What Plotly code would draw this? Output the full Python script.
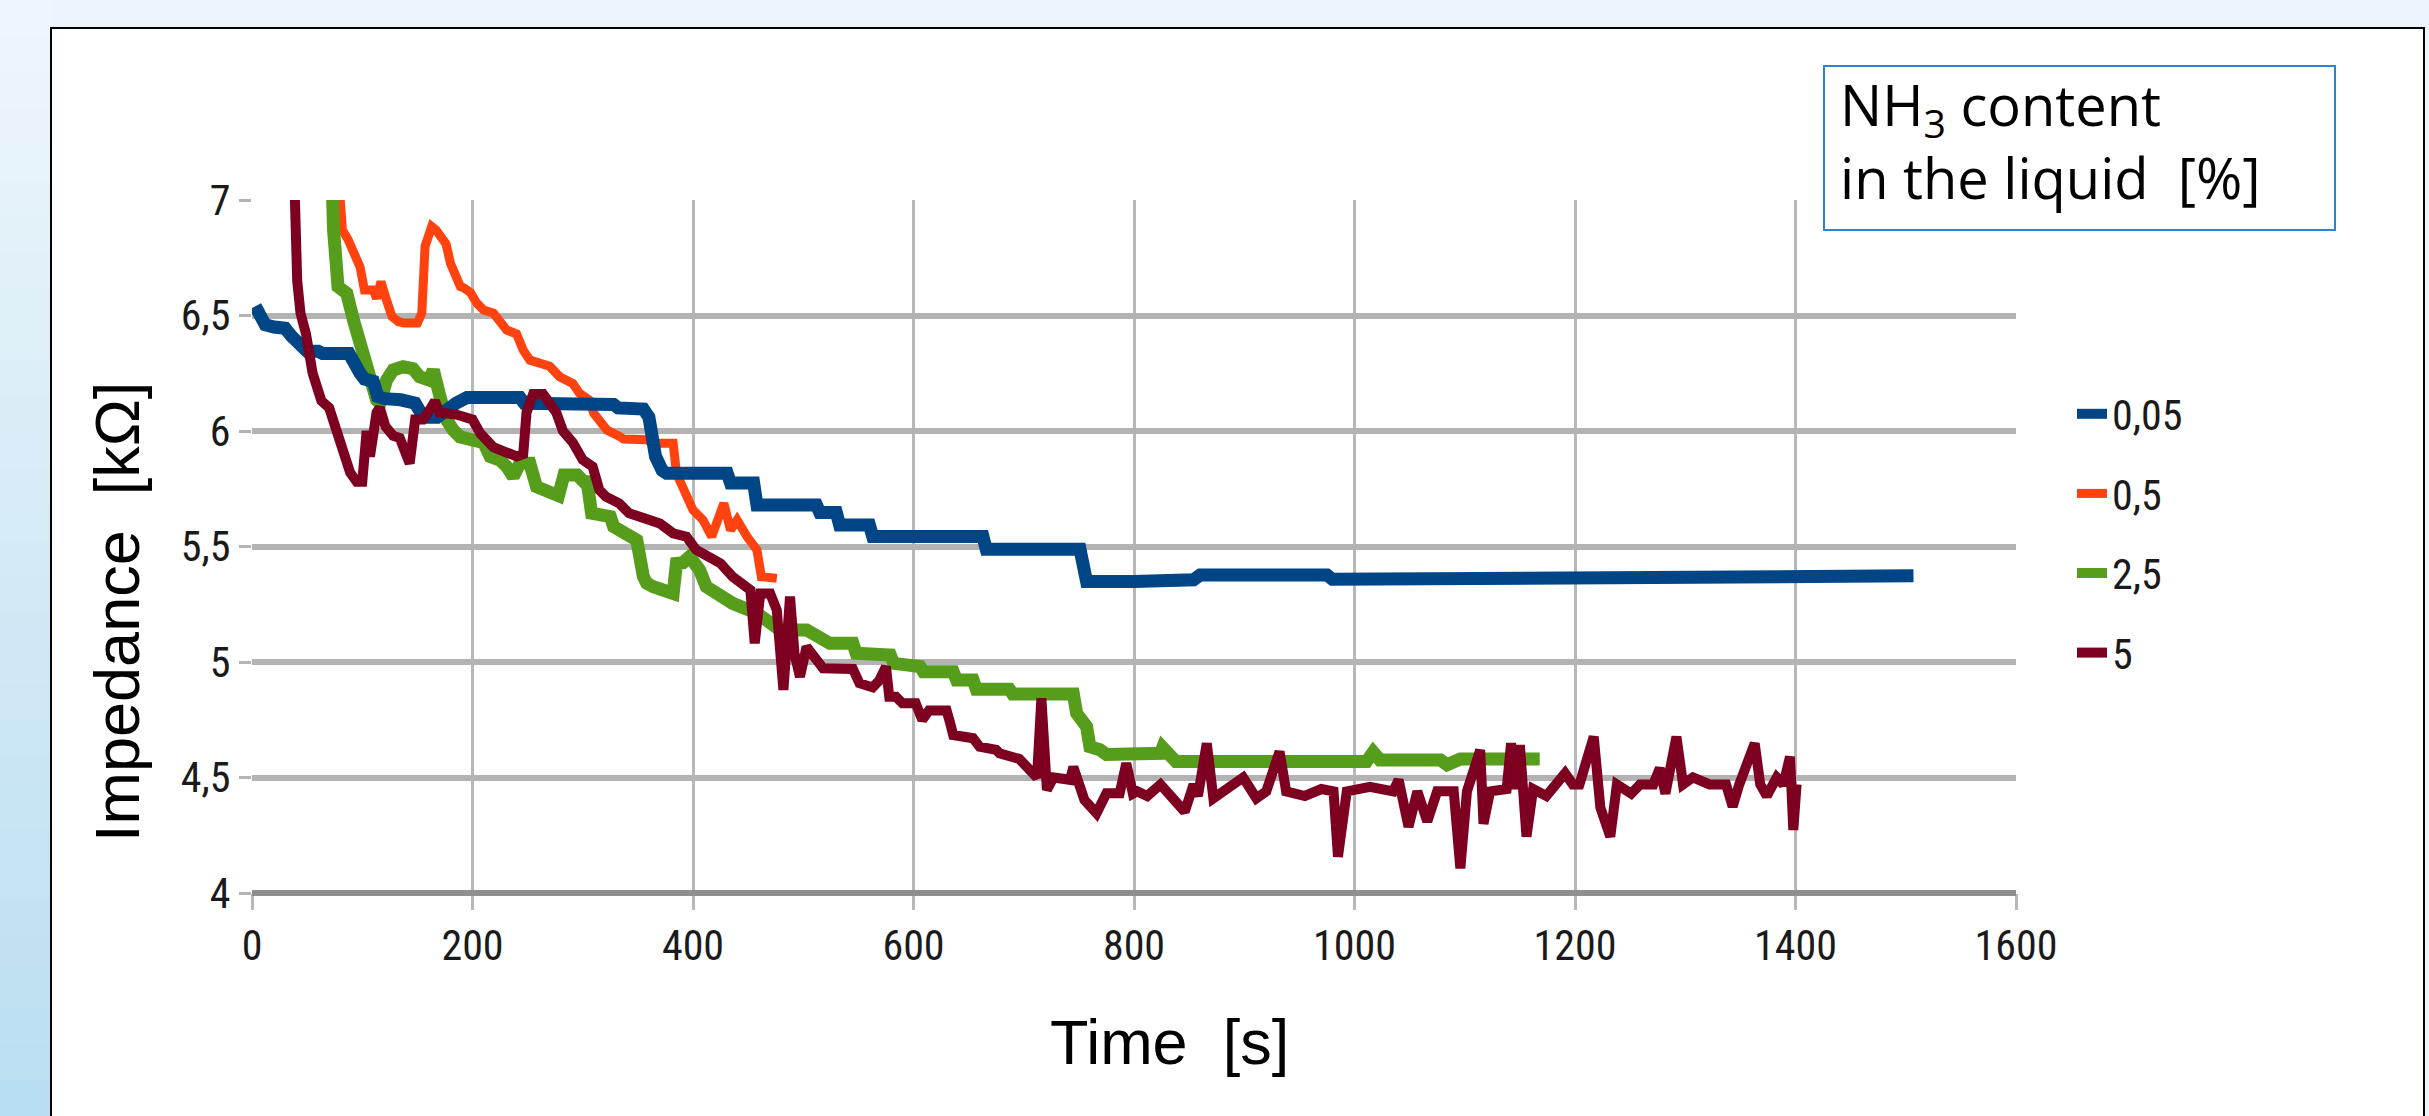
import plotly.graph_objects as go

# ---------------- data ----------------
series_names = ["0,05", "0,5", "2,5", "5"]
series_colors = ["#004586", "#ff420e", "#579d1c", "#7e0021"]
series_widths = [13, 9, 13, 10]

t_005 = [3, 8, 12, 20, 30, 36, 43, 50, 60, 64, 88, 93, 98, 102, 110, 114, 120, 135, 148, 153, 160,
         168, 175, 185, 195, 243, 247, 328, 332, 355, 360, 366, 372, 376, 431, 434, 455, 458, 512,
         515, 530, 533, 560, 563, 663, 666, 751, 754, 757, 800, 830, 854, 860, 975, 980, 1100, 1200,
         1300, 1400, 1507]
z_005 = [6.54, 6.49, 6.46, 6.45, 6.445, 6.41, 6.37, 6.345, 6.345, 6.335, 6.335, 6.28, 6.25, 6.225,
         6.215, 6.15, 6.14, 6.135, 6.12, 6.08, 6.06, 6.06, 6.09, 6.12, 6.145, 6.145, 6.12, 6.115,
         6.10, 6.095, 6.06, 5.89, 5.83, 5.817, 5.817, 5.775, 5.775, 5.68, 5.68, 5.647, 5.647, 5.593,
         5.593, 5.543, 5.543, 5.488, 5.488, 5.40, 5.348, 5.348, 5.352, 5.356, 5.377, 5.377, 5.358,
         5.36, 5.365, 5.368, 5.372, 5.373]

t_05 = [74, 80, 82, 87, 95, 98, 102, 110, 113, 117, 122, 127, 133, 138, 150, 154, 157, 163, 167,
        176, 180, 189, 192, 198, 204, 210, 219, 225, 231, 240, 246, 252, 261, 270, 279, 291, 297,
        306, 310, 316, 322, 334, 337, 358, 364, 382, 385, 400, 409, 417, 428, 434, 440, 449, 458,
        462, 476]
z_05 = [7.4, 7.0, 6.87, 6.83, 6.74, 6.71, 6.61, 6.61, 6.574, 6.646, 6.567, 6.495, 6.473, 6.467,
        6.467, 6.51, 6.80, 6.885, 6.87, 6.81, 6.726, 6.625, 6.62, 6.60, 6.553, 6.524, 6.51, 6.48,
        6.437, 6.42, 6.35, 6.307, 6.29, 6.28, 6.235, 6.206, 6.163, 6.134, 6.077, 6.033, 6.004,
        5.975, 5.965, 5.962, 5.947, 5.947, 5.817, 5.658, 5.615, 5.543, 5.687, 5.571, 5.615, 5.543,
        5.485, 5.369, 5.362]

t_25 = [70, 72, 74, 78, 86, 92, 98, 102.5, 108.5, 113, 116, 122, 128, 137, 146, 152, 161, 164.5,
        170.5, 176.5, 182.6, 188.6, 201, 210, 216, 225, 231, 237, 243, 252, 258, 273, 278, 283, 295,
        301, 304, 308, 319, 325, 328, 337, 349, 355, 358, 364, 382, 385, 391, 397, 406, 412, 436,
        458, 479, 503, 521, 524, 545, 548, 579, 582, 606, 609, 636, 639, 654, 657, 687, 690, 745,
        748, 757, 760, 769, 775, 824, 826, 832, 838, 1011, 1017, 1023, 1078, 1084, 1096, 1168]
z_25 = [7.5, 7.0, 6.87, 6.625, 6.596, 6.48, 6.365, 6.293, 6.221, 6.134, 6.12, 6.22, 6.264, 6.278,
        6.27, 6.235, 6.22, 6.264, 6.149, 6.048, 6.004, 5.975, 5.96, 5.95, 5.889, 5.874, 5.846,
        5.802, 5.86, 5.86, 5.759, 5.73, 5.72, 5.81, 5.81, 5.78, 5.78, 5.644, 5.629, 5.629, 5.586,
        5.557, 5.528, 5.369, 5.341, 5.326, 5.297, 5.427, 5.43, 5.456, 5.398, 5.326, 5.254, 5.211,
        5.139, 5.139, 5.102, 5.081, 5.081, 5.038, 5.03, 4.994, 4.98, 4.958, 4.958, 4.922, 4.922,
        4.882, 4.882, 4.861, 4.861, 4.778, 4.72, 4.633, 4.62, 4.60, 4.605, 4.63, 4.60, 4.569,
        4.569, 4.61, 4.576, 4.576, 4.555, 4.58, 4.58]

t_5 = [36, 40, 41, 44, 49, 55, 63, 70, 77, 83, 89, 95, 100, 104, 107, 113, 116, 121, 128, 134, 143,
       148, 155, 161, 166, 170, 186, 200, 207, 219, 240, 246, 249, 255, 264, 270, 276, 282, 291,
       300, 309, 315, 321, 333, 342, 351, 370, 382, 394, 403, 412, 425, 436, 452, 456, 461, 470,
       476, 482, 488, 492, 497, 503, 509, 518, 545, 551, 563, 569, 575, 578, 584, 590, 602, 608,
       614, 630, 633, 636, 654, 660, 675, 678, 696, 703, 712, 716, 721, 727, 742, 745, 755, 766,
       775, 787, 793, 799, 803, 812, 824, 846, 854, 858, 866, 872, 885, 899, 911, 920, 932, 938,
       955, 970, 981, 985, 993, 1014, 1035, 1040, 1049, 1057, 1066, 1075, 1090, 1096, 1102, 1114,
       1117, 1123, 1138, 1142, 1146, 1150, 1156, 1162, 1174, 1191, 1198, 1204, 1217, 1223, 1232,
       1238, 1251, 1259, 1271, 1277, 1282, 1292, 1298, 1307, 1322, 1337, 1343, 1349, 1363, 1368,
       1374, 1383, 1389, 1395, 1398, 1401]
z_5 = [7.5, 6.80, 6.65, 6.51, 6.42, 6.25, 6.13, 6.10, 5.99, 5.90, 5.82, 5.78, 5.78, 6.00, 5.89,
       6.08, 6.10, 6.02, 5.98, 5.97, 5.86, 6.05, 6.05, 6.09, 6.13, 6.08, 6.07, 6.05, 5.99, 5.93,
       5.89, 5.90, 6.08, 6.16, 6.16, 6.12, 6.08, 6.00, 5.95, 5.875, 5.846, 5.745, 5.716, 5.687,
       5.644, 5.63, 5.60, 5.557, 5.543, 5.485, 5.456, 5.427, 5.369, 5.312, 5.081, 5.297, 5.297,
       5.225, 4.879, 5.283, 5.038, 4.936, 5.066, 5.023, 4.973, 4.97, 4.908, 4.89, 4.92, 4.98,
       4.85, 4.85, 4.821, 4.821, 4.749, 4.79, 4.79, 4.74, 4.684, 4.67, 4.633, 4.62, 4.605, 4.58,
       4.54, 4.50, 4.843, 4.446, 4.50, 4.49, 4.545, 4.403, 4.345, 4.432, 4.432, 4.561, 4.43, 4.44,
       4.42, 4.47, 4.352, 4.47, 4.42, 4.648, 4.41, 4.45, 4.50, 4.41, 4.44, 4.612, 4.44, 4.42,
       4.45, 4.44, 4.157, 4.44, 4.46, 4.44, 4.49, 4.287, 4.44, 4.31, 4.44, 4.44, 4.107, 4.44,
       4.619, 4.30, 4.44, 4.45, 4.648, 4.45, 4.64, 4.244, 4.45, 4.42, 4.518, 4.47, 4.47, 4.677,
       4.37, 4.244, 4.47, 4.43, 4.47, 4.47, 4.54, 4.43, 4.677, 4.47, 4.50, 4.47, 4.47, 4.374,
       4.47, 4.648, 4.47, 4.42, 4.50, 4.47, 4.59, 4.273, 4.47]

x_ticks = [0, 200, 400, 600, 800, 1000, 1200, 1400, 1600]
x_tick_text = ["0", "200", "400", "600", "800", "1000", "1200", "1400", "1600"]
y_ticks = [4, 4.5, 5, 5.5, 6, 6.5, 7]
y_tick_text = ["4", "4,5", "5", "5,5", "6", "6,5", "7"]

x_title = "Time\u00a0 [s]"
y_title = "Impedance\u00a0 [k\u03a9]"
legend_title = "NH<sub>3</sub> content<br>in the liquid\u00a0 [%]"

# ---------------- geometry helpers (pixels -> paper) ----------------
W, H = 2429, 1116
PL, PR, PT, PB = 252, 2016, 200, 893


def px(X):
    return (X - PL) / (PR - PL)


def py(Y):
    return (PB - Y) / (PB - PT)


tick_font = dict(family="Liberation Sans Narrow, Arial Narrow, Roboto Condensed, Liberation Sans",
                 size=42, color="#1a1a1a")

fig = go.Figure()
data = [(t_005, z_005), (t_05, z_05), (t_25, z_25), (t_5, z_5)]
draw_order = [1, 2, 0, 3]
for i in draw_order:
    tx, zy = data[i]
    fig.add_trace(go.Scatter(
        x=tx, y=zy, mode="lines", name=series_names[i],
        line=dict(color=series_colors[i], width=series_widths[i]),
        legendgroup=series_names[i], legendrank=i + 1,
    ))

# ---------------- decorations ----------------
shapes = []
# page background gradient on the left strip
top_c = (238, 246, 251)
bot_c = (185, 222, 241)
n = 31
for k in range(n):
    f = (k + 0.5) / n
    c = tuple(round(top_c[j] + (bot_c[j] - top_c[j]) * f) for j in range(3))
    y0 = H * k / n
    y1 = H * (k + 1) / n + 1
    shapes.append(dict(type="rect", xref="paper", yref="paper", layer="below",
                       x0=px(-2), x1=px(52), y0=py(y1), y1=py(y0),
                       fillcolor="rgb(%d,%d,%d)" % c, line=dict(width=0)))
# white panel with black frame
shapes.append(dict(type="rect", xref="paper", yref="paper", layer="below",
                   x0=px(51), x1=px(2424), y0=py(1130), y1=py(28),
                   fillcolor="white", line=dict(color="black", width=2)))
# bottom axis line (darker)
shapes.append(dict(type="line", xref="paper", yref="paper", layer="above",
                   x0=0, x1=1, y0=0, y1=0, line=dict(color="#8f8f8f", width=6)))
# legend-title box
shapes.append(dict(type="rect", xref="paper", yref="paper", layer="above",
                   x0=px(1824), x1=px(2335), y0=py(230), y1=py(66),
                   fillcolor="white", line=dict(color="#2b83d6", width=2)))

annotations = [
    dict(text=x_title, xref="paper", yref="paper", x=px(1169), y=py(1042),
         xanchor="center", yanchor="middle", showarrow=False,
         font=dict(family="Liberation Sans, Arial", size=63, color="black")),
    dict(text=y_title, xref="paper", yref="paper", x=px(117), y=py(612),
         xanchor="center", yanchor="middle", showarrow=False, textangle=-90,
         font=dict(family="Liberation Sans, Arial", size=63, color="black")),
    dict(text=legend_title, xref="paper", yref="paper", x=px(1838), y=py(140),
         xanchor="left", yanchor="middle", align="left", showarrow=False,
         font=dict(family="Open Sans", size=56, color="black")),
]

fig.update_layout(
    width=W, height=H, autosize=False,
    margin=dict(l=PL, r=W - PR, t=PT, b=H - PB, pad=0),
    paper_bgcolor="#eef5fa", plot_bgcolor="white",
    separators=",.",
    showlegend=True,
    legend=dict(x=px(2072), y=py(380), xanchor="left", yanchor="top",
                font=tick_font, bgcolor="rgba(0,0,0,0)", borderwidth=0,
                tracegroupgap=22, traceorder="grouped", itemwidth=30),
    shapes=shapes, annotations=annotations,
    xaxis=dict(range=[0, 1600], tickvals=x_ticks, ticktext=x_tick_text,
               showgrid=True, gridcolor="#b8b8b8", gridwidth=3,
               zeroline=False, showline=False,
               ticks="outside", ticklen=16, tickwidth=3, tickcolor="#b8b8b8",
               tickfont=tick_font, fixedrange=True),
    yaxis=dict(range=[4, 7], tickvals=y_ticks, ticktext=y_tick_text,
               showgrid=True, gridcolor="#b3b3b3", gridwidth=6,
               zeroline=False, showline=False,
               ticks="outside", ticklen=12, tickwidth=3, tickcolor="#b3b3b3",
               tickfont=tick_font, fixedrange=True),
)

fig.write_html("out.html", config={"displayModeBar": False},
               post_script="document.body.style.margin='0';document.body.style.overflow='hidden';")
